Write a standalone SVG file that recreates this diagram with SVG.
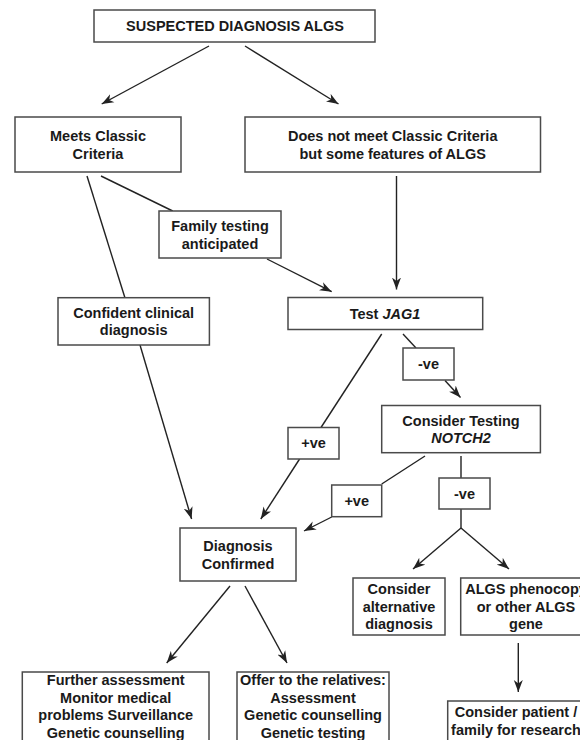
<svg xmlns="http://www.w3.org/2000/svg" width="580" height="740" viewBox="0 0 580 740">
<style>
.box{fill:#fff;stroke:#4a4a4a;stroke-width:1.5}
.t{font-family:"Liberation Sans",Arial,Helvetica,sans-serif;font-weight:bold;font-size:14.5px;fill:#1a1a1a;text-anchor:middle}
.c{fill:none;stroke:#222;stroke-width:1.4}
.a{marker-end:url(#ah)}
</style>
<defs>
<marker id="ah" markerUnits="userSpaceOnUse" markerWidth="13" markerHeight="10" refX="12" refY="5" orient="auto">
<path d="M0,0.5 L12,5 L0,9.5 L3.5,5 Z" fill="#222"/>
</marker>
</defs>
<rect width="580" height="740" fill="#fff"/>
<g id="connectors">
<line class="c a" x1="209" y1="46" x2="101.7" y2="104"/>
<line class="c a" x1="245" y1="46" x2="338.5" y2="104"/>
<line class="c" x1="87" y1="176" x2="125" y2="298"/>
<line class="c a" x1="140" y1="345" x2="191.6" y2="519"/>
<line class="c" x1="101" y1="176" x2="172.7" y2="211"/>
<line class="c a" x1="267" y1="259" x2="331.7" y2="291.7"/>
<line class="c a" x1="396.5" y1="176" x2="396.5" y2="289.5"/>
<line class="c" x1="381.7" y1="334" x2="321" y2="427.5"/>
<line class="c a" x1="299.6" y1="459" x2="260.8" y2="519"/>
<line class="c" x1="403" y1="334" x2="416" y2="348"/>
<line class="c a" x1="445" y1="380.5" x2="460.5" y2="397.5"/>
<line class="c" x1="425" y1="456" x2="381.7" y2="484"/>
<line class="c a" x1="331.7" y1="517" x2="304" y2="531"/>
<line class="c" x1="461" y1="456" x2="461" y2="478"/>
<line class="c" x1="461" y1="509" x2="461" y2="528"/>
<line class="c a" x1="461" y1="528" x2="413" y2="569"/>
<line class="c a" x1="461" y1="528" x2="509" y2="569"/>
<line class="c a" x1="230" y1="586" x2="166.7" y2="663"/>
<line class="c a" x1="245" y1="586" x2="287" y2="663"/>
<line class="c a" x1="518.3" y1="643" x2="518.3" y2="692"/>
</g>
<g id="n-suspected">
<rect class="box" x="94" y="10" width="281" height="32"/>
<text class="t" x="235" y="31">SUSPECTED DIAGNOSIS ALGS</text>
</g>
<g id="n-meets">
<rect class="box" x="15" y="117" width="166" height="55"/>
<text class="t" x="98" y="141">Meets Classic</text>
<text class="t" x="98" y="158.5">Criteria</text>
</g>
<g id="n-doesnot">
<rect class="box" x="245" y="117" width="295.5" height="55"/>
<text class="t" x="392.7" y="141">Does not meet Classic Criteria</text>
<text class="t" x="392.7" y="158.5">but some features of ALGS</text>
</g>
<g id="n-family">
<rect class="box" x="159" y="211" width="122" height="47"/>
<text class="t" x="220" y="231">Family testing</text>
<text class="t" x="220" y="248.5">anticipated</text>
</g>
<g id="n-confident">
<rect class="box" x="58" y="297.7" width="151.4" height="47.3"/>
<text class="t" x="133.7" y="317.8">Confident clinical</text>
<text class="t" x="133.7" y="335.3">diagnosis</text>
</g>
<g id="n-jag1">
<rect class="box" x="288" y="297.5" width="194.7" height="32"/>
<text class="t" x="385" y="318.7">Test <tspan font-style="italic">JAG1</tspan></text>
</g>
<g id="n-pos1">
<rect class="box" x="288" y="427.5" width="51" height="31.5"/>
<text class="t" x="313.5" y="448.2">+ve</text>
</g>
<g id="n-neg1">
<rect class="box" x="403" y="348" width="51" height="32"/>
<text class="t" x="428.5" y="369.2">-ve</text>
</g>
<g id="n-notch2">
<rect class="box" x="381.7" y="405.5" width="158.7" height="47.2"/>
<text class="t" x="461" y="425.5">Consider Testing</text>
<text class="t" x="461" y="443" font-style="italic">NOTCH2</text>
</g>
<g id="n-pos2">
<rect class="box" x="331.7" y="485" width="50" height="31.7"/>
<text class="t" x="356.7" y="506">+ve</text>
</g>
<g id="n-neg2">
<rect class="box" x="439" y="478" width="51" height="31"/>
<text class="t" x="464.5" y="498.7">-ve</text>
</g>
<g id="n-confirmed">
<rect class="box" x="180" y="528" width="116" height="53"/>
<text class="t" x="238" y="551">Diagnosis</text>
<text class="t" x="238" y="568.5">Confirmed</text>
</g>
<g id="n-alternative">
<rect class="box" x="353" y="578" width="92" height="57"/>
<text class="t" x="399" y="594">Consider</text>
<text class="t" x="399" y="611.5">alternative</text>
<text class="t" x="399" y="629">diagnosis</text>
</g>
<g id="n-phenocopy">
<rect class="box" x="460.7" y="578" width="131" height="57"/>
<text class="t" x="526" y="594">ALGS phenocopy</text>
<text class="t" x="526" y="611.5">or other ALGS</text>
<text class="t" x="526" y="629">gene</text>
</g>
<g id="n-research">
<rect class="box" x="447.7" y="701" width="138" height="50"/>
<text class="t" x="516" y="717">Consider patient /</text>
<text class="t" x="516" y="735">family for research</text>
</g>
<g id="n-further">
<rect class="box" x="22.3" y="672" width="186.7" height="80"/>
<text class="t" x="115.7" y="685">Further assessment</text>
<text class="t" x="115.7" y="702.7">Monitor medical</text>
<text class="t" x="115.7" y="720.4">problems Surveillance</text>
<text class="t" x="115.7" y="738">Genetic counselling</text>
</g>
<g id="n-offer">
<rect class="box" x="237" y="672" width="152" height="80"/>
<text class="t" x="313" y="685">Offer to the relatives:</text>
<text class="t" x="313" y="702.7">Assessment</text>
<text class="t" x="313" y="720.4">Genetic counselling</text>
<text class="t" x="313" y="738">Genetic testing</text>
</g>
</svg>
